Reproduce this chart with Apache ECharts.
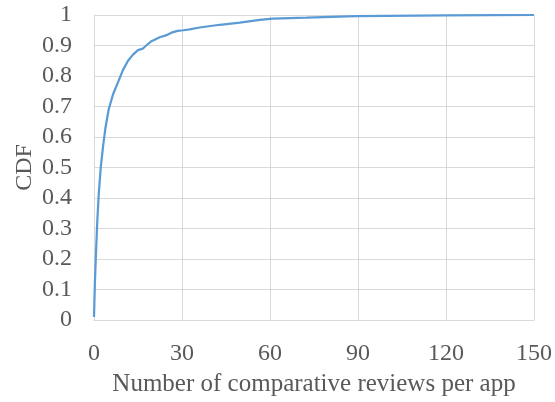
<!DOCTYPE html>
<html>
<head>
<meta charset="utf-8">
<script src="https://cdn.jsdelivr.net/npm/echarts@6/dist/echarts.min.js"></script>
<style>
	html, body {margin: 0; padding: 0; background: #fff;}
	#cdf-chart {width: 555px; height: 402px;}
</style>
</head>
<body>
<div id="cdf-chart"></div>
<script>
// reviews per app (x) and cumulative share (y)
const reviewCounts = [0, 0.3, 0.6, 1.1, 1.6, 2.3, 3.1, 3.9, 5, 6.5, 8.2, 9.9, 11.6, 13.3, 15, 16.7, 17.8, 19.6, 22.4, 24.5, 26.4, 28.5, 30.5, 32.6, 36, 42.9, 49.7, 56.5, 61, 72.4, 83.8, 89.5, 120, 150];
const cdfValues = [0.01, 0.12, 0.2, 0.32, 0.41, 0.5, 0.57, 0.63, 0.69, 0.74, 0.78, 0.82, 0.85, 0.87, 0.885, 0.89, 0.9, 0.914, 0.927, 0.933, 0.942, 0.948, 0.95, 0.953, 0.959, 0.968, 0.975, 0.984, 0.988, 0.991, 0.995, 0.996, 0.999, 1];
const xTicks = [0, 30, 60, 90, 120, 150];

const textColor = '#595959';
const gridColor = '#d9d9d9';
const font = 'Liberation Serif';

const node = document.getElementById('cdf-chart');
const myChart = echarts.init(node);

myChart.setOption({
	animation: false,
	textStyle: {fontFamily: font},
	grid: {
		left: 94,
		right: 20,
		top: 15,
		bottom: 76,
	},
	xAxis: {
		type: 'value',
		min: xTicks[0],
		max: xTicks[xTicks.length - 1],
		interval: 30,
		name: 'Number of comparative reviews per app',
		nameLocation: 'middle',
		nameGap: 52,
		nameMoveOverlap: false,
		nameTextStyle: {fontSize: 25, color: textColor, fontFamily: font},
		axisLine: {show: true, lineStyle: {color: gridColor, width: 1}},
		axisTick: {show: false},
		axisLabel: {fontSize: 24, color: textColor, margin: 22, fontFamily: font},
		splitLine: {show: true, lineStyle: {color: gridColor, width: 1}},
	},
	yAxis: {
		type: 'value',
		min: 0,
		max: 1,
		interval: 0.1,
		name: 'CDF',
		nameLocation: 'middle',
		nameGap: 57,
		nameMoveOverlap: false,
		nameTextStyle: {fontSize: 24, color: textColor, fontFamily: font},
		axisLine: {show: true, lineStyle: {color: gridColor, width: 1}},
		axisTick: {show: false},
		axisLabel: {
			fontSize: 24,
			color: textColor,
			margin: 22,
			fontFamily: font,
			formatter: v => String(Math.round(v * 10) / 10),
		},
		splitLine: {show: true, lineStyle: {color: gridColor, width: 1}},
	},
	series: [
		{
			type: 'line',
			data: reviewCounts.map((x, i) => [x, cdfValues[i]]),
			smooth: false,
			showSymbol: false,
			lineStyle: {color: '#5b9bd5', width: 2.25},
		},
	],
});
</script>
</body>
</html>
